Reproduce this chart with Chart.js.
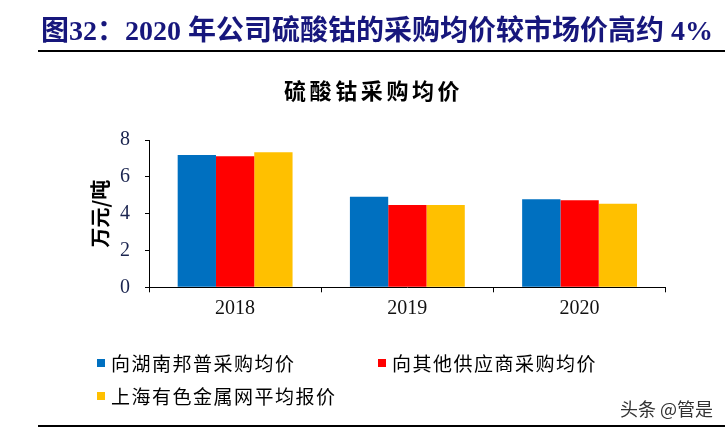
<!DOCTYPE html>
<html>
<head>
<meta charset="utf-8">
<script src="https://cdn.jsdelivr.net/npm/chart.js@4/dist/chart.umd.min.js"></script>
<style>
  html, body { margin: 0; padding: 0; background: #fff; }
  #wrap { position: relative; width: 725px; height: 430px; overflow: hidden; }
  #c { position: absolute; left: 0; top: 0; }
  .txt { position: absolute; white-space: nowrap; }
  #title { left: 41px; top: 15px; font: bold 28px "Liberation Serif", "Noto Sans CJK SC"; color: #17177c; line-height: 32px; }
  #topline { position: absolute; left: 38px; top: 50px; width: 687px; height: 2px; background: #000; }
  #ctitle { left: 284px; top: 76px; font: bold 22px "Noto Sans CJK SC"; letter-spacing: 3.6px; color: #000; line-height: 26px; }
  #wm { left: 620px; top: 397px; font: 18px "Noto Sans CJK SC"; color: #333; line-height: 22px; }
  #botline { position: absolute; left: 38px; top: 425px; width: 687px; height: 2px; background: #000; }
</style>
</head>
<body>
<div id="wrap">
  <canvas id="c" width="725" height="430"></canvas>
  <div class="txt" id="title">图32：2020 年公司硫酸钴的采购均价较市场价高约 4%</div>
  <div id="topline"></div>
  <div class="txt" id="ctitle">硫酸钴采购均价</div>
  <div class="txt" id="wm">头条 @管是</div>
  <div id="botline"></div>
</div>
<script>
const categories = ['2018', '2019', '2020'];
const seriesNames = ['向湖南邦普采购均价', '向其他供应商采购均价', '上海有色金属网平均报价'];
const bangpu = [7.18, 4.92, 4.78];
const others = [7.12, 4.47, 4.73];
const smm = [7.34, 4.47, 4.54];
const yTicks = [0, 2, 4, 6, 8];
const yAxisTitle = '万元/吨';

const colors = ['#0070C0', '#FF0000', '#FFC000'];
const legendPos = [[97, 363], [378, 363], [97, 396]];

const legendPlugin = {
  id: 'customLegend',
  afterDraw(chart) {
    const ctx = chart.ctx;
    ctx.save();
    chart.data.datasets.forEach((ds, i) => {
      const [x, y] = legendPos[i];
      ctx.fillStyle = ds.backgroundColor;
      ctx.fillRect(x, y - 4, 8, 8);
      ctx.fillStyle = '#000';
      ctx.font = '19px "Noto Sans CJK SC"';
      ctx.letterSpacing = '1.5px';
      ctx.textBaseline = 'middle';
      ctx.textAlign = 'left';
      ctx.fillText(ds.label, x + 14, y + 1);
    });
    ctx.restore();
  }
};

new Chart(document.getElementById('c'), {
  type: 'bar',
  data: {
    labels: categories,
    datasets: [
      { label: seriesNames[0], data: bangpu, backgroundColor: colors[0] },
      { label: seriesNames[1], data: others, backgroundColor: colors[1] },
      { label: seriesNames[2], data: smm, backgroundColor: colors[2] }
    ]
  },
  options: {
    responsive: false,
    animation: false,
    devicePixelRatio: 1,
    layout: { padding: { left: 88, top: 140, right: 59.3, bottom: 102.7 } },
    plugins: { legend: { display: false }, tooltip: { enabled: false }, title: { display: false } },
    datasets: { bar: { categoryPercentage: 0.667, barPercentage: 1 } },
    scales: {
      x: {
        offset: true,
        grid: { offset: true, drawOnChartArea: false, drawTicks: true, tickLength: 5, color: '#000', lineWidth: 1 },
        border: { display: true, color: '#000', width: 1 },
        ticks: { color: '#111', font: { family: 'Liberation Serif', size: 20 }, padding: 4, maxRotation: 0 },
        afterFit(scale) { scale.height = 40; }
      },
      y: {
        min: 0, max: 8,
        afterBuildTicks(scale) { scale.ticks = yTicks.map(v => ({ value: v })); },
        grid: { drawOnChartArea: false, drawTicks: true, tickLength: 4, color: '#000', lineWidth: 1 },
        border: { display: true, color: '#000', width: 1 },
        ticks: { color: '#1b2550', font: { family: 'Liberation Serif', size: 20 }, padding: 15 },
        title: { display: true, text: yAxisTitle, color: '#000', font: { family: 'Noto Sans CJK SC', size: 20, weight: 'bold' }, padding: 0 },
        afterFit(scale) { scale.width = 61; }
      }
    }
  },
  plugins: [legendPlugin]
});
</script>
</body>
</html>
